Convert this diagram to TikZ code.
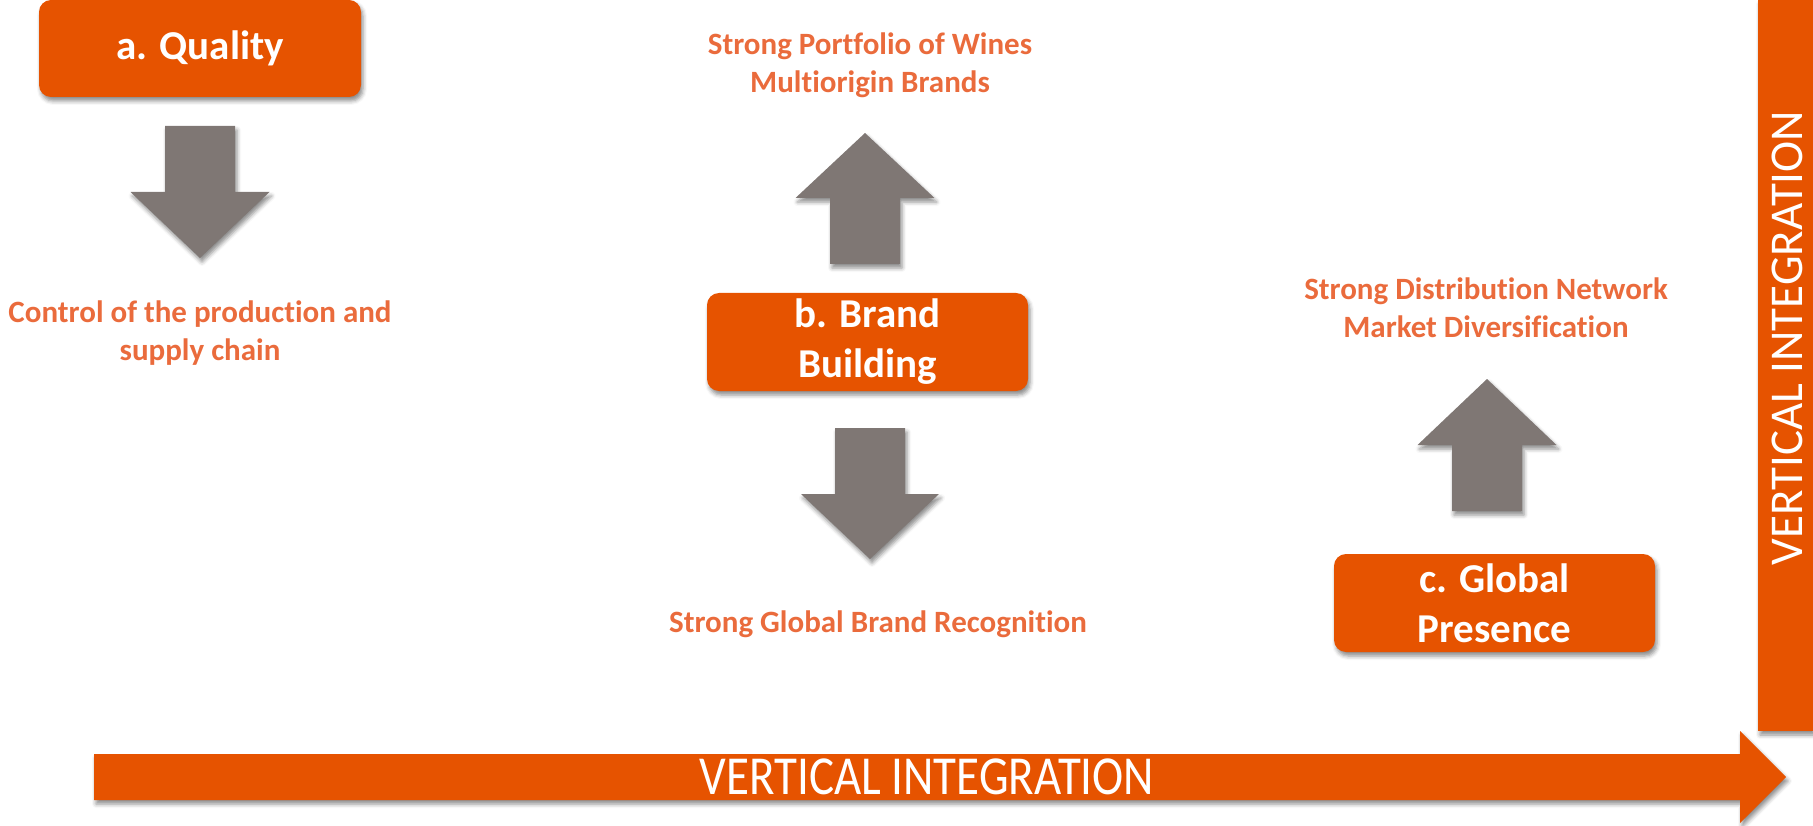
\documentclass[tikz,border=0pt]{standalone}
\usepackage{fontspec}
\setmainfont[Ligatures=NoCommon]{Carlito}
\usepackage{graphicx}
\usetikzlibrary{shadows.blur}
\definecolor{boxorange}{RGB}{230,83,0}
\definecolor{txtorange}{RGB}{234,107,60}
\definecolor{arrgray}{RGB}{127,119,116}
\tikzset{
  softshadow/.style={blur shadow={shadow xshift=2pt,shadow yshift=-4pt,shadow blur radius=4pt,shadow opacity=45}},
  catbox/.style={fill=boxorange,rounded corners=12pt,text=white,align=center,inner sep=0pt,
    minimum width=321pt,minimum height=98pt,font=\fontsize{41}{50}\selectfont\bfseries,softshadow},
  gain/.style={text=txtorange,align=center,inner sep=0pt,font=\fontsize{31}{38}\selectfont\bfseries},
  grayarrow/.style={fill=arrgray,softshadow},
  barfill/.style={fill=boxorange,softshadow},
  bartext/.style={text=white,inner sep=0pt,font=\fontsize{47}{56}\selectfont}
}
\begin{document}
\begin{tikzpicture}[x=1pt,y=-1pt]
\useasboundingbox (0,0) rectangle (1813,826);
% integration bars
\path[barfill] (1758,0) rectangle (1813,731);
\path[barfill] (94,754) -- (1740,754) -- (1740,731) -- (1786,777) -- (1740,823) -- (1740,800) -- (94,800) -- cycle;
\node[bartext,rotate=90] (vint) at (1787,338) {VERTICAL INTEGRATION};
\node[bartext] (hint) at (927,777) {\scalebox{1}[1.17]{VERTICAL INTEGRATION}};
% the three pillars
\node[catbox,minimum width=322pt,minimum height=97pt] (quality) at (200,48.5) {a. Quality};
\node[catbox] (brand) at (867.5,342) {b. Brand\\Building};
\node[catbox] (global) at (1494.5,603) {c. Global\\Presence};
% block arrows
\path[grayarrow,shift={(200,126)}] (-35,0) -- (35,0) -- (35,66) -- (69.5,66) -- (0,132) -- (-69.5,66) -- (-35,66) -- cycle;
\path[grayarrow,shift={(865,264)}] (-35,0) -- (35,0) -- (35,-66) -- (69.5,-66) -- (0,-131) -- (-69.5,-66) -- (-35,-66) -- cycle;
\path[grayarrow,shift={(870,428)}] (-35,0) -- (35,0) -- (35,66) -- (69,66) -- (0,131) -- (-69,66) -- (-35,66) -- cycle;
\path[grayarrow,shift={(1487,511)}] (-35,0) -- (35,0) -- (35,-66) -- (69.5,-66) -- (0,-132) -- (-69.5,-66) -- (-35,-66) -- cycle;
% outcomes
\node[gain] (control) at (200,333) {Control of the production and\\supply chain};
\node[gain] (portfolio) at (870,65) {Strong Portfolio of Wines\\Multiorigin Brands};
\node[gain,anchor=base] (recog) at (878,632) {Strong Global Brand Recognition};
\node[gain] (distrib) at (1486,308) {Strong Distribution Network\\Market Diversification};
\end{tikzpicture}
\end{document}
